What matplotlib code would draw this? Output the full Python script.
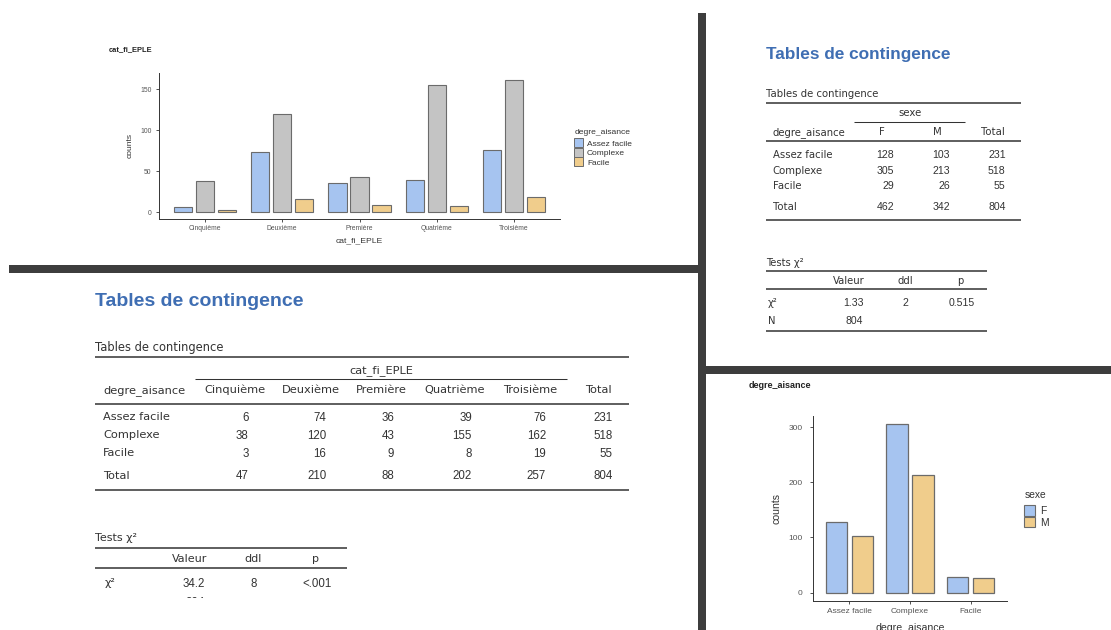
import matplotlib
matplotlib.use("Agg")
import matplotlib.pyplot as plt
from matplotlib.patches import Rectangle
import numpy as np

W, H = 1111, 630

# ---- data -------------------------------------------------------------
eple_levels = ["Cinquième", "Deuxième", "Première", "Quatrième", "Troisième"]
aisance_levels = ["Assez facile", "Complexe", "Facile"]
sexe_levels = ["F", "M"]

eple_assez_facile = [6, 74, 36, 39, 76]
eple_complexe = [38, 120, 43, 155, 162]
eple_facile = [3, 16, 9, 8, 19]

sexe_f = [128, 305, 29]
sexe_m = [103, 213, 26]

chi2_eple = ["34.2", "8", "<.001"]
n_eple = "804"
chi2_sexe = ["1.33", "2", "0.515"]
n_sexe = "804"

aisance_colors = ["#a6c4f0", "#c4c4c4", "#f0cd8c"]
sexe_colors = ["#a6c4f0", "#f0cd8c"]

# ---- style ------------------------------------------------------------
SEP = "#3d3d3d"
INK = "#333333"
BLUE = "#3f6eb3"
EDGE = "#6b6b6b"
LBL = "DejaVu Sans"
NUM = "Liberation Sans"

fig = plt.figure(figsize=(W / 100, H / 100), dpi=100)
fig.patch.set_facecolor("white")
bg = fig.add_axes([0, 0, 1, 1])
bg.set_xlim(0, W)
bg.set_ylim(H, 0)
bg.axis("off")

# panel separators
bg.add_patch(Rectangle((698, 13), 8, H - 13, color=SEP, lw=0, zorder=6))
bg.add_patch(Rectangle((9, 265), 689, 8, color=SEP, lw=0, zorder=6))
bg.add_patch(Rectangle((706, 366), W - 706, 8, color=SEP, lw=0, zorder=6))
# the lower-left panel ends just above the figure edge
bg.add_patch(Rectangle((0, 598), 698, H - 598, color="white", lw=0, zorder=5))


def px_axes(x0, y0, x1, y1):
    return fig.add_axes([x0 / W, 1 - y1 / H, (x1 - x0) / W, (y1 - y0) / H])


def txt(x, y, s, size, ha="left", family=LBL, **kw):
    return bg.text(x, y, s, fontsize=size, ha=ha, va="center_baseline",
                   family=family, color=kw.pop("color", INK), **kw)


def hline(y, x0, x1, lw):
    bg.plot([x0, x1], [y, y], color=INK, lw=lw, solid_capstyle="butt")


def style_axes(ax, tick_size, pad_y, pad_x):
    for side in ("top", "right"):
        ax.spines[side].set_visible(False)
    for side in ("left", "bottom"):
        ax.spines[side].set_color("#333333")
        ax.spines[side].set_linewidth(0.7)
    ax.tick_params(axis="both", colors="#333333", width=0.6, length=2.2,
                   labelsize=tick_size, labelcolor="#555555")
    ax.tick_params(axis="y", pad=pad_y)
    ax.tick_params(axis="x", pad=pad_x)
    for lab in ax.get_xticklabels() + ax.get_yticklabels():
        lab.set_family(NUM)
    ax.patch.set_alpha(0)


# ---- bar chart: degre_aisance by cat_fi_EPLE ---------------------------
ax1 = px_axes(158.6, 73, 560.4, 219)
x1 = np.arange(len(eple_levels))
eple_series = [eple_assez_facile, eple_complexe, eple_facile]
for i, (vals, col) in enumerate(zip(eple_series, aisance_colors)):
    ax1.bar(x1 + (i - 1) * 0.285, vals, width=0.235, color=col,
            edgecolor=EDGE, linewidth=0.8)
ax1.set_xlim(-0.6, len(eple_levels) - 0.4)
ax1.set_ylim(-8.1, 170.1)
ax1.set_yticks([0, 50, 100, 150])
ax1.set_xticks(x1, eple_levels)
style_axes(ax1, 4.9, 3.0, 1.8)
ax1.set_ylabel("counts", fontsize=6.1, family=NUM, color="#333333")
ax1.yaxis.set_label_coords((133.7 - 158.6) / 401.8, 0.5)
ax1.set_xlabel("cat_fi_EPLE", fontsize=6.1, family=NUM, color="#333333",
               va="center")
ax1.xaxis.set_label_coords(0.5, (219 - 240.7) / 146)

txt(108.4, 48.3, "cat_fi_EPLE", 5.4, family=NUM, weight="bold", color="#222222")
txt(574.6, 131, "degre_aisance", 6.1, family=NUM)
key_top = 138.3
for lvl, col in zip(aisance_levels, aisance_colors):
    bg.add_patch(Rectangle((573.8, key_top), 9.2, 9.0, facecolor=col,
                           edgecolor=EDGE, lw=0.7))
    txt(587, key_top + 4.8, lvl, 6.0, family=NUM)
    key_top += 9.5

# ---- bar chart: degre_aisance by sexe ----------------------------------
ax2 = px_axes(813, 416, 1007, 601)
x2 = np.arange(len(aisance_levels))
for j, (vals, col) in enumerate(zip([sexe_f, sexe_m], sexe_colors)):
    ax2.bar(x2 + (j - 0.5) * 0.424, vals, width=0.352, color=col,
            edgecolor=EDGE, linewidth=0.9)
ax2.set_xlim(-0.6, len(aisance_levels) - 0.4)
ax2.set_ylim(-15.25, 320.25)
ax2.set_yticks([0, 100, 200, 300])
ax2.set_xticks(x2, aisance_levels)
style_axes(ax2, 6.0, 5.5, 3.0)
ax2.set_ylabel("counts", fontsize=7.6, family=NUM, color="#333333")
ax2.yaxis.set_label_coords((781 - 813) / 194, 0.5)
ax2.set_xlabel("degre_aisance", fontsize=7.6, family=NUM, color="#333333",
               va="center")
ax2.xaxis.set_label_coords(0.5, (601 - 628) / 185)

txt(749, 384, "degre_aisance", 6.5, family=NUM, weight="bold", color="#222222")
txt(1025, 494, "sexe", 7.4, family=NUM)
key_top = 505
for lvl, col in zip(sexe_levels, sexe_colors):
    bg.add_patch(Rectangle((1024, key_top), 10.7, 10.7, facecolor=col,
                           edgecolor=EDGE, lw=0.8))
    txt(1040, key_top + 5.5, lvl, 7.4, family=NUM)
    key_top += 11.7

# ---- contingency table: degre_aisance x sexe ---------------------------
txt(766, 52.5, "Tables de contingence", 12.4, family=NUM, weight="bold",
    color=BLUE)
txt(766, 93, "Tables de contingence", 7.3)
hline(102.7, 766, 1021, 1.1)
txt(910, 112.5, "sexe", 7.3, ha="center")
hline(121.7, 854, 965, 0.75)
txt(772.7, 131.3, "degre_aisance", 7.3)
col_centers = [881.7, 937.0]
col_rights = [894.3, 950.0]
for c, lvl in zip(col_centers, sexe_levels):
    txt(c, 131.3, lvl, 7.3, ha="center")
txt(993.3, 131.3, "Total", 7.3, ha="center")
hline(141, 766, 1021, 1.1)
row_ys = [154.3, 169.5, 185.0]
for k, lvl in enumerate(aisance_levels):
    y = row_ys[k]
    txt(772.7, y, lvl, 7.3)
    vals = [sexe_f[k], sexe_m[k]]
    for r, v in zip(col_rights, vals):
        txt(r, y, str(v), 7.6, ha="right", family=NUM)
    txt(1005.7, y, str(sum(vals)), 7.6, ha="right", family=NUM)
txt(772.7, 205.7, "Total", 7.3)
tot_f, tot_m = sum(sexe_f), sum(sexe_m)
for r, v in zip(col_rights + [1005.7], [tot_f, tot_m, tot_f + tot_m]):
    txt(r, 205.7, str(v), 7.6, ha="right", family=NUM)
hline(220.3, 766, 1021, 1.1)

# chi-square tests for sexe
txt(766, 262, "Tests χ²", 7.2)
hline(270.7, 766, 987, 1.1)
txt(849, 280, "Valeur", 7.2, ha="center")
txt(905.7, 280, "ddl", 7.2, ha="center")
txt(960, 280, "p", 7.2, ha="center")
hline(288.7, 766, 987, 1.1)
txt(768, 301.5, "χ²", 7.2)
txt(863.3, 301.5, chi2_sexe[0], 7.6, ha="right", family=NUM)
txt(905.7, 301.5, chi2_sexe[1], 7.6, ha="center", family=NUM)
txt(961.7, 301.5, chi2_sexe[2], 7.6, ha="center", family=NUM)
txt(768, 319.5, "N", 7.2)
txt(863.3, 319.5, n_sexe, 7.6, ha="right", family=NUM)
hline(330.7, 766, 987, 1.1)

# ---- contingency table: degre_aisance x cat_fi_EPLE --------------------
txt(95, 299.5, "Tables de contingence", 14.0, family=NUM, weight="bold",
    color=BLUE)
txt(95, 345.5, "Tables de contingence", 8.3)
hline(356.7, 95, 629, 1.1)
txt(381.8, 369.5, "cat_fi_EPLE", 8.2, ha="center")
hline(378.7, 195.4, 566.8, 0.75)
txt(103.2, 389, "degre_aisance", 8.2)
eple_centers = [234.6, 310.4, 381.8, 455.0, 530.0]
eple_rights = [248.6, 326.4, 394.3, 472.0, 546.0]
for c, lvl in zip(eple_centers, eple_levels):
    txt(c, 389, lvl, 8.2, ha="center")
txt(597.9, 389, "Total", 8.2, ha="center")
hline(404, 95, 629, 1.1)
row_ys = [416.3, 434.3, 452.2]
for k, (lvl, vals) in enumerate(zip(aisance_levels, eple_series)):
    y = row_ys[k]
    txt(103.2, y, lvl, 8.2)
    for r, v in zip(eple_rights, vals):
        txt(r, y, str(v), 8.3, ha="right", family=NUM)
    txt(612.9, y, str(sum(vals)), 8.3, ha="right", family=NUM)
col_tot = [sum(t) for t in zip(*eple_series)]
txt(103.2, 474.8, "Total", 8.2)
for r, v in zip(eple_rights + [612.9], col_tot + [sum(col_tot)]):
    txt(r, 474.8, str(v), 8.3, ha="right", family=NUM)
hline(490, 95, 629, 1.1)

# chi-square tests for cat_fi_EPLE (panel cut off at its lower edge)
txt(95, 537.3, "Tests χ²", 8.0)
hline(547.7, 95, 347, 1.1)
txt(189.3, 557.8, "Valeur", 8.0, ha="center")
txt(253.3, 557.8, "ddl", 8.0, ha="center")
txt(315.7, 557.8, "p", 8.0, ha="center")
hline(568.3, 95, 347, 1.1)
txt(105, 582.5, "χ²", 8.0)
txt(205, 582.5, chi2_eple[0], 8.3, ha="right", family=NUM)
txt(253.3, 582.5, chi2_eple[1], 8.3, ha="center", family=NUM)
txt(317.3, 582.5, chi2_eple[2], 8.3, ha="center", family=NUM)
txt(205, 601, n_eple, 8.3, ha="right", family=NUM)

fig.savefig("out.png", dpi=100)
